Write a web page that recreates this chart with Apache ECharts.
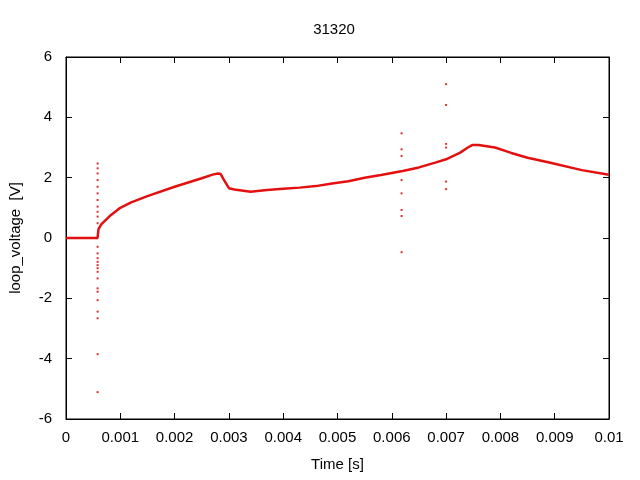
<!DOCTYPE html>
<html>
<head>
<meta charset="utf-8">
<script src="https://cdn.jsdelivr.net/npm/echarts@6/dist/echarts.min.js"></script>
<style>html,body{margin:0;padding:0;background:#fff}#c{width:640px;height:480px}</style>
</head>
<body>
<div id="c"></div>
<script>
const chartTitle = "31320";
const traceTime = [0, 0.0002, 0.0004, 0.00058, 0.0006, 0.00065, 0.0008, 0.001, 0.0012, 0.0015, 0.002, 0.0025, 0.0027, 0.0028, 0.00285, 0.0029, 0.00295, 0.003, 0.0031, 0.0034, 0.0037, 0.004, 0.0043, 0.0046, 0.0049, 0.0052, 0.0055, 0.0058, 0.0062, 0.0065, 0.0068, 0.0070, 0.00726, 0.0074, 0.00748, 0.0076, 0.0079, 0.0082, 0.0085, 0.0089, 0.0095, 0.01];
const traceVolt = [0, 0, 0, 0, 0.3, 0.45, 0.72, 1.0, 1.18, 1.39, 1.70, 1.98, 2.1, 2.14, 2.12, 1.95, 1.8, 1.65, 1.61, 1.53, 1.59, 1.63, 1.67, 1.72, 1.81, 1.88, 2.0, 2.09, 2.22, 2.34, 2.5, 2.61, 2.83, 3.0, 3.08, 3.08, 3.0, 2.82, 2.66, 2.50, 2.25, 2.10];
const spikeTime = [0.000582,0.000582,0.000582,0.000582,0.000582,0.000582,0.000582,0.000582,0.000582,0.000582,0.000582,0.000582,0.000582,0.000582,0.000582,0.000582,0.000582,0.000582,0.000582,0.000582,0.000582,0.000582,0.000582,0.000582,0.000582,0.000582,
  0.00618,0.00618,0.00618,0.00618,0.00618,0.00618,0.00618,0.00618,
  0.00700,0.00700,0.00700,0.00700,0.00700,0.00700];
const spikeVolt = [2.47,2.31,2.14,1.92,1.70,1.48,1.26,1.04,0.87,0.71,0.49,-0.29,-0.51,-0.67,-0.79,-0.9,-1.0,-1.12,-1.34,-1.67,-1.78,-2.06,-2.44,-2.66,-3.85,-5.11,
  3.47,2.94,2.72,1.92,1.48,0.93,0.73,-0.47,
  5.1,4.41,3.12,3.0,1.87,1.62];
const xLabelName = "Time [s]";
const yLabelName = "loop_voltage  [V]";

const lineData = traceTime.map((t, i) => [t, traceVolt[i]]);
const spikeData = spikeTime.map((t, i) => [t, spikeVolt[i]]);
const font = "Liberation Sans";
const fs = 15;
const fmtX = v => String(parseFloat(v.toFixed(4)));
const chart = echarts.init(document.getElementById('c'), null, {renderer: 'canvas'});
const tickStyle = {show: true, inside: true, length: 6, lineStyle: {color: '#000', width: 1}};
const axLine = {show: true, onZero: false, lineStyle: {color: '#000', width: 1}};
chart.setOption({
  animation: false,
  backgroundColor: '#fff',
  title: {text: chartTitle, left: 329, top: 17, textAlign: 'center',
    textStyle: {fontFamily: font, fontSize: fs, fontWeight: 'normal', color: '#000'}},
  grid: {left: 65, right: 31, top: 57, bottom: 61, show: true, borderColor: '#000', borderWidth: 1},
  xAxis: [
    {type: 'value', min: 0, max: 0.01, interval: 0.001, position: 'bottom',
     name: xLabelName, nameLocation: 'middle', nameGap: 38,
     nameTextStyle: {fontFamily: font, fontSize: fs, color: '#000'},
     axisLine: axLine, axisTick: tickStyle,
     splitLine: {show: false},
     axisLabel: {formatter: fmtX, fontFamily: font, fontSize: fs, color: '#000', margin: 11}},
    {type: 'value', min: 0, max: 0.01, interval: 0.001, position: 'top',
     axisLine: axLine, axisTick: tickStyle,
     splitLine: {show: false}, axisLabel: {show: false}}
  ],
  yAxis: [
    {type: 'value', min: -6, max: 6, interval: 2, position: 'left',
     name: yLabelName, nameLocation: 'middle', nameGap: 43,
     nameTextStyle: {fontFamily: font, fontSize: fs, color: '#000'},
     axisLine: axLine, axisTick: tickStyle,
     splitLine: {show: false},
     axisLabel: {fontFamily: font, fontSize: fs, color: '#000', margin: 14}},
    {type: 'value', min: -6, max: 6, interval: 2, position: 'right',
     axisLine: axLine, axisTick: tickStyle,
     splitLine: {show: false}, axisLabel: {show: false}}
  ],
  series: [
    {type: 'line', data: lineData, showSymbol: false, smooth: false,
     lineStyle: {color: '#e41010', width: 2.5}, z: 3},
    {type: 'scatter', data: spikeData, symbol: 'rect', symbolSize: 2,
     itemStyle: {color: '#cc0000'}, z: 4}
  ]
});
</script>
</body>
</html>
